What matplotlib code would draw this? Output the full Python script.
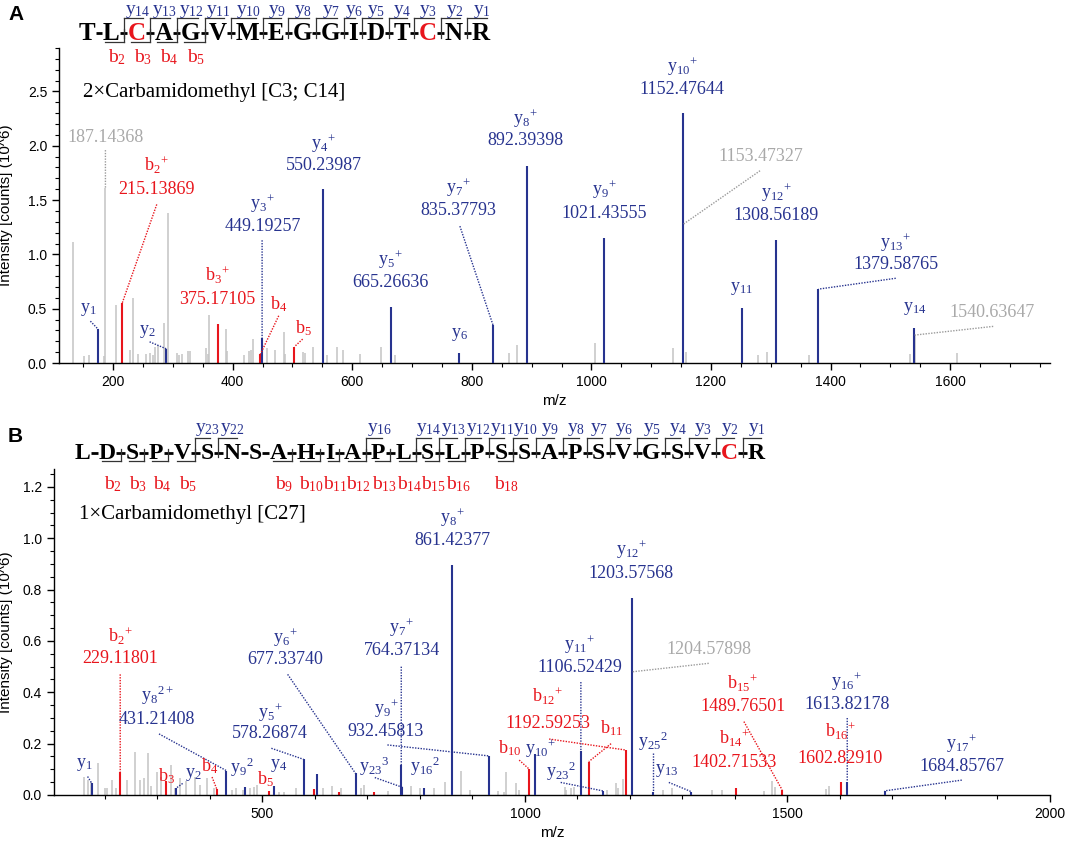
import matplotlib
matplotlib.use("Agg")
import matplotlib.pyplot as plt
from matplotlib.ticker import MultipleLocator, FormatStrFormatter
from matplotlib.font_manager import FontProperties

plt.rcParams['mathtext.fontset'] = 'custom'
plt.rcParams['mathtext.rm'] = 'Liberation Serif'
plt.rcParams['mathtext.it'] = 'Liberation Serif:italic'
plt.rcParams['mathtext.bf'] = 'Liberation Serif:bold'
plt.rcParams['font.family'] = 'Liberation Sans'

SERIF = 'Liberation Serif'
BLUE = '#27338f'
RED = '#e8151c'
GRAY = '#c4c4c4'
GRAYTXT = '#a9a9a9'

# ---------------- Panel A data ----------------
A_SEQ = "TLCAGVMEGGIDTCNR"
A_B_IONS = [2, 3, 4, 5]
A_Y_IONS = [14, 13, 12, 11, 10, 9, 8, 7, 6, 5, 4, 3, 2, 1]
A_MOD = "2×Carbamidomethyl [C3; C14]"

A_Y_MZ = [175.12, 289.16, 449.19257, 550.23987, 665.26636, 778.35, 835.37793,
          892.39398, 1021.43555, 1152.47644, 1251.55, 1308.56189, 1379.58765, 1539.63]
A_Y_INT = [0.31, 0.13, 0.23, 1.60, 0.52, 0.09, 0.35,
           1.81, 1.155, 2.30, 0.51, 1.13, 0.68, 0.32]
A_B_MZ = [215.13869, 375.17105, 446.2, 503.2]
A_B_INT = [0.55, 0.36, 0.08, 0.15]
A_ISO_MZ = [187.14368, 1153.47327, 1540.63647]
A_ISO_INT = [1.61, 1.277, 0.257]
A_OTHER_MZ = [132.9, 150.8, 158.9, 185.3, 204.8, 228.6, 232.6, 241.0, 255.6, 261.3,
              267.0, 270.0, 274.6, 284.4, 291.0, 306.4, 310.3, 314.9, 324.7, 329.3,
              355.2, 358.0, 360.4, 388.0, 391.0, 418.6, 426.6, 430.0, 434.0, 457.0,
              471.6, 485.8, 488.3, 517.6, 520.6, 533.8, 557.9, 574.0, 583.8, 612.6,
              648.8, 672.0, 862.0, 875.8, 1005.4, 1136.6, 1159.0, 1279.0, 1293.0, 1364.0,
              1533.0, 1612.0]
A_OTHER_INT = [1.11, 0.06, 0.077, 0.06, 0.53, 0.12, 0.60, 0.08, 0.08, 0.09,
               0.07, 0.15, 0.17, 0.37, 1.38, 0.09, 0.07, 0.08, 0.11, 0.11,
               0.14, 0.08, 0.44, 0.31, 0.11, 0.07, 0.11, 0.12, 0.22, 0.14,
               0.12, 0.29, 0.08, 0.10, 0.09, 0.15, 0.07, 0.15, 0.12, 0.08,
               0.15, 0.07, 0.09, 0.17, 0.18, 0.136, 0.10, 0.07, 0.10, 0.07,
               0.08, 0.09]

# annotations: (series, index, ion(letter, sub, sup), number text, label x, name y, number y, connector start)
A_ANNOT = [
    ('y', 0, ('y', '1', ''), None, 159, 0.49, None, (162, 0.385)),
    ('y', 1, ('y', '2', ''), None, 258, 0.29, None, (261, 0.195)),
    ('y', 2, ('y', '3', '+'), '449.19257', 450, 1.47, 1.26, (449.2, 1.13)),
    ('y', 3, ('y', '4', '+'), '550.23987', 552, 2.02, 1.82, None),
    ('y', 4, ('y', '5', '+'), '665.26636', 664, 0.955, 0.74, None),
    ('y', 5, ('y', '6', ''), None, 779, 0.26, None, None),
    ('y', 6, ('y', '7', '+'), '835.37793', 777, 1.61, 1.40, (780, 1.26)),
    ('y', 7, ('y', '8', '+'), '892.39398', 890, 2.25, 2.05, None),
    ('y', 8, ('y', '9', '+'), '1021.43555', 1021, 1.60, 1.38, None),
    ('y', 9, ('y', '10', '+'), '1152.47644', 1152, 2.73, 2.52, None),
    ('y', 10, ('y', '11', ''), None, 1251, 0.686, None, None),
    ('y', 11, ('y', '12', '+'), '1308.56189', 1309, 1.57, 1.36, None),
    ('y', 12, ('y', '13', '+'), '1379.58765', 1509, 1.11, 0.91, (1509, 0.78)),
    ('y', 13, ('y', '14', ''), None, 1541, 0.50, None, None),
    ('b', 0, ('b', '2', '+'), '215.13869', 273, 1.82, 1.60, (273, 1.46)),
    ('b', 1, ('b', '3', '+'), '375.17105', 375, 0.81, 0.58, None),
    ('b', 2, ('b', '4', ''), None, 477, 0.545, None, (477, 0.435)),
    ('b', 3, ('b', '5', ''), None, 519, 0.32, None, (517, 0.22)),
    ('iso', 0, None, '187.14368', 186.5, None, 2.08, (187.14, 1.96)),
    ('iso', 1, None, '1153.47327', 1283, None, 1.90, (1282, 1.77)),
    ('iso', 2, None, '1540.63647', 1670, None, 0.466, (1672, 0.337)),
]

# ---------------- Panel B data ----------------
B_SEQ = "LDSPVSNSAHIAPLSLPSSAPSVGSVCR"
B_B_IONS = [2, 3, 4, 5, 9, 10, 11, 12, 13, 14, 15, 16, 18]
B_Y_IONS = [23, 22, 16, 14, 13, 12, 11, 10, 9, 8, 7, 6, 5, 4, 3, 2, 1]
B_MOD = "1×Carbamidomethyl [C27]"

B_Y_MZ = [175.12, 335.15, 431.21408, 466.73, 521.25, 578.26874, 604.0, 677.3374,
          766.5, 764.37134, 808.0, 861.42377, 932.45813, 1019.49, 1106.52429,
          1148.5, 1203.57568, 1244.0, 1316.66, 1613.82178, 1684.85767]
B_Y_INT = [0.045, 0.026, 0.095, 0.03, 0.035, 0.139, 0.08, 0.084,
           0.03, 0.117, 0.026, 0.896, 0.152, 0.158, 0.172,
           0.016, 0.769, 0.012, 0.013, 0.052, 0.016]
B_B_MZ = [229.11801, 316.15, 413.2, 512.27, 598.6, 646.0, 713.3, 1008.47,
          1121.55, 1192.59253, 1402.71533, 1489.76501, 1602.8291]
B_B_INT = [0.088, 0.055, 0.022, 0.015, 0.023, 0.010, 0.012, 0.100,
           0.130, 0.175, 0.029, 0.020, 0.050]
B_ISO_MZ = [1204.57898]
B_ISO_INT = [0.48]
B_OTHER_MZ = [160, 167, 173.5, 187, 200.7, 204, 214, 222, 241.5, 257,
              266.7, 274, 282, 287, 299.3, 307.5, 326.5, 333, 343.5, 353.7,
              370.7, 382, 394.6, 408, 442, 449, 463, 476, 483, 490,
              531, 541, 564.6, 615.6, 632.7, 650, 687, 694, 739, 782,
              800, 826.5, 847, 877.6, 894.6, 948, 960, 964.6, 983, 989,
              1076, 1079, 1087, 1094, 1156, 1172.5, 1178, 1186, 1262, 1281,
              1357, 1375, 1456, 1470, 1476, 1574, 1580]
B_OTHER_INT = [0.071, 0.058, 0.052, 0.123, 0.026, 0.026, 0.058, 0.026, 0.058, 0.169,
               0.058, 0.068, 0.162, 0.036, 0.088, 0.071, 0.117, 0.026, 0.065, 0.055,
               0.071, 0.039, 0.065, 0.026, 0.020, 0.026, 0.020, 0.026, 0.030, 0.039,
               0.013, 0.010, 0.026, 0.029, 0.036, 0.026, 0.026, 0.039, 0.015, 0.036,
               0.026, 0.026, 0.049, 0.094, 0.020, 0.016, 0.013, 0.091, 0.045, 0.020,
               0.032, 0.020, 0.028, 0.032, 0.020, 0.045, 0.028, 0.062, 0.020, 0.026,
               0.020, 0.020, 0.015, 0.055, 0.030, 0.025, 0.035]

B_ANNOT = [
    ('y', 0, ('y', '1', ''), None, 161, 0.117, None, (167, 0.072)),
    ('y', 1, ('y', '2', ''), None, 368, 0.078, None, (348, 0.045)),
    ('y', 2, ('y', '8', '2+'), '431.21408', 299, 0.39, 0.295, (303, 0.238)),
    ('y', 3, ('y', '9', '2'), None, 461, 0.108, None, None),
    ('y', 4, ('y', '4', ''), None, 530, 0.113, None, None),
    ('y', 5, ('y', '5', '+'), '578.26874', 514, 0.32, 0.238, (517, 0.182)),
    ('y', 7, ('y', '6', '+'), '677.33740', 544, 0.613, 0.526, (548, 0.47)),
    ('y', 8, ('y', '23', '3'), None, 712, 0.11, None, (714, 0.068)),
    ('y', 9, ('y', '7', '+'), '764.37134', 765, 0.65, 0.561, (764.4, 0.5)),
    ('y', 10, ('y', '16', '2'), None, 810, 0.11, None, None),
    ('y', 11, ('y', '8', '+'), '861.42377', 862, 1.08, 0.99, None),
    ('y', 12, ('y', '9', '+'), '932.45813', 735, 0.338, 0.247, (738, 0.195)),
    ('y', 13, ('y', '10', '+'), None, 1030, 0.179, None, None),
    ('y', 14, ('y', '11', '+'), '1106.52429', 1104, 0.584, 0.496, (1106.5, 0.44)),
    ('y', 15, ('y', '23', '2'), None, 1068, 0.091, None, (1068, 0.049)),
    ('y', 16, ('y', '12', '+'), '1203.57568', 1202, 0.955, 0.864, None),
    ('y', 17, ('y', '25', '2'), None, 1244, 0.21, None, (1244, 0.162)),
    ('y', 18, ('y', '13', ''), None, 1270, 0.097, None, (1274, 0.049)),
    ('y', 19, ('y', '16', '+'), '1613.82178', 1613, 0.442, 0.353, (1613.8, 0.30)),
    ('y', 20, ('y', '17', '+'), '1684.85767', 1832, 0.201, 0.11, (1832, 0.058)),
    ('b', 0, ('b', '2', '+'), '229.11801', 230, 0.62, 0.53, (229.1, 0.47)),
    ('b', 1, ('b', '3', ''), None, 318, 0.075, None, None),
    ('b', 2, ('b', '4', ''), None, 400, 0.113, None, (404, 0.07)),
    ('b', 3, ('b', '5', ''), None, 506, 0.062, None, None),
    ('b', 7, ('b', '10', ''), None, 970, 0.184, None, (989, 0.136)),
    ('b', 8, ('b', '11', ''), None, 1164, 0.259, None, (1164, 0.2)),
    ('b', 9, ('b', '12', '+'), '1192.59253', 1043, 0.383, 0.279, (1046, 0.218)),
    ('b', 10, ('b', '14', '+'), '1402.71533', 1399, 0.22, 0.126, None),
    ('b', 11, ('b', '15', '+'), '1489.76501', 1415, 0.435, 0.344, (1417, 0.286)),
    ('b', 12, ('b', '16', '+'), '1602.82910', 1601, 0.247, 0.143, None),
    ('iso', 0, None, '1204.57898', 1350, None, 0.565, (1350, 0.513)),
]

W, H = 1065, 843
fig = plt.figure(figsize=(W / 100, H / 100), dpi=100)


def ion_tex(ion):
    letter, sub, sup = ion
    s = r'\mathrm{%s}_{\mathrm{%s}}' % (letter, sub)
    if sup:
        s += r'{}^{\mathrm{%s}}' % sup
    return '$' + s + '$'


def make_axes(rect, xlim, ylim, xmaj, xmin, ymaj, ymin):
    ax = fig.add_axes(rect)
    ax.set_xlim(*xlim)
    ax.set_ylim(*ylim)
    for s in ('top', 'right'):
        ax.spines[s].set_visible(False)
    for s in ('left', 'bottom'):
        ax.spines[s].set_linewidth(1.0)
    ax.xaxis.set_major_locator(MultipleLocator(xmaj))
    ax.xaxis.set_minor_locator(MultipleLocator(xmin))
    ax.yaxis.set_major_locator(MultipleLocator(ymaj))
    ax.yaxis.set_minor_locator(MultipleLocator(ymin))
    ax.yaxis.set_major_formatter(FormatStrFormatter('%.1f'))
    ax.tick_params(which='major', direction='out', length=5, width=1, labelsize=10)
    ax.tick_params(which='minor', direction='out', length=3, width=0.8)
    ax.set_ylabel('Intensity [counts] (10^6)', fontsize=11)
    ax.set_xlabel('m/z', fontsize=11)
    return ax


def draw_spectrum(ax, other, iso, bser, yser, annots, yl_x):
    ax.vlines(other[0], 0, other[1], colors=GRAY, lw=1.1, zorder=1)
    ax.vlines(iso[0], 0, iso[1], colors=GRAY, lw=1.1, zorder=1)
    ax.vlines(bser[0], 0, bser[1], colors=RED, lw=1.5, zorder=2)
    ax.vlines(yser[0], 0, yser[1], colors=BLUE, lw=1.5, zorder=3)
    series = {'y': (yser, BLUE, BLUE), 'b': (bser, RED, RED), 'iso': (iso, '#9a9a9a', GRAYTXT)}
    for ser, idx, ion, num, lx, ly_name, ly_num, conn in annots:
        data, lcol, tcol = series[ser]
        px, py = data[0][idx], data[1][idx]
        if conn is not None:
            ax.plot([conn[0], px], [conn[1], py], ls=(0, (1, 1)), color=lcol, lw=1.0, zorder=4)
        if ion is not None:
            ax.text(lx, ly_name, ion_tex(ion), color=tcol, fontsize=13,
                    ha='center', va='center', zorder=5)
        if num is not None:
            ax.text(lx, ly_num, num, color=tcol, fontsize=13, family=SERIF,
                    ha='center', va='center', zorder=5)
    ax.yaxis.set_label_coords(yl_x, 0.5)


axA = make_axes([59 / W, 1 - 363 / H, (1050 - 59) / W, (363 - 48) / H],
                (109.5, 1767), (0, 2.9), 200, 50, 0.5, 0.1)
draw_spectrum(axA, (A_OTHER_MZ, A_OTHER_INT), (A_ISO_MZ, A_ISO_INT),
              (A_B_MZ, A_B_INT), (A_Y_MZ, A_Y_INT), A_ANNOT, -0.046)

axB = make_axes([54 / W, 1 - 795 / H, (1050 - 54) / W, (795 - 469) / H],
                (103, 2000), (0, 1.27), 500, 100, 0.2, 0.05)
draw_spectrum(axB, (B_OTHER_MZ, B_OTHER_INT), (B_ISO_MZ, B_ISO_INT),
              (B_B_MZ, B_B_INT), (B_Y_MZ, B_Y_INT), B_ANNOT, -0.041)

ov = fig.add_axes([0, 0, 1, 1], facecolor='none')
ov.set_xlim(0, W)
ov.set_ylim(H, 0)
ov.axis('off')
ov.set_zorder(10)

renderer = fig.canvas.get_renderer()


def draw_sequence(seq, b_ions, y_ions, x_left, base, fs, plain_sep, br_sep,
                  top_dy, bot_dy, ylab_y, blab_y, lab_fs):
    n = len(seq)
    prop = FontProperties(family=SERIF, weight='bold', size=fs)
    widths = [renderer.get_text_width_height_descent(c, prop, ismath=False)[0] for c in seq]
    b_sites = set(b_ions)
    y_sites = {n - y: y for y in y_ions}
    x = x_left
    centers, sites = [], []
    for i, c in enumerate(seq):
        centers.append(x + widths[i] / 2)
        x += widths[i]
        if i < n - 1:
            k = i + 1
            sep = br_sep if (k in b_sites or k in y_sites) else plain_sep
            sites.append((k, x + sep / 2, sep))
            x += sep
    for i, c in enumerate(seq):
        ov.text(centers[i], base, c, fontproperties=prop, ha='center', va='baseline',
                color=RED if c == 'C' else 'black')
    hy = base - 0.27 * fs * 100 / 72
    ytop = base - top_dy
    ybot = base + bot_dy
    for k, xs, sep in sites:
        ov.plot([xs - sep / 2 + 0.5, xs + sep / 2 - 0.5], [hy, hy], color='black',
                lw=2.0, solid_capstyle='butt')
        if k in y_sites:
            ov.plot([xs, xs], [ytop, base - 2], color='#333333', lw=0.9)
            ov.plot([xs, xs + widths[k] + 1.5], [ytop, ytop], color='#333333', lw=0.9)
            ov.text(centers[k] + 1, ylab_y, ion_tex(('y', str(y_sites[k]), '')),
                    color=BLUE, fontsize=lab_fs, ha='center', va='center')
        if k in b_sites:
            ov.plot([xs, xs], [hy - 4, ybot], color='#333333', lw=0.9)
            ov.plot([xs, xs - widths[k - 1] - 1.5], [ybot, ybot], color='#333333', lw=0.9)
            ov.text(centers[k - 1] + 6, blab_y, ion_tex(('b', str(k), '')),
                    color=RED, fontsize=lab_fs, ha='center', va='center')


draw_sequence(A_SEQ, A_B_IONS, A_Y_IONS, 79, 40, 18, 7.0, 8.5, 22, 2, 12, 57, 14)
draw_sequence(B_SEQ, B_B_IONS, B_Y_IONS, 75, 459, 17, 8.0, 10.0, 21, 2, 430, 484, 14)

ov.text(83, 93, A_MOD, family=SERIF, fontsize=15, ha='left', va='center')
ov.text(79, 515, B_MOD, family=SERIF, fontsize=15, ha='left', va='center')
ov.text(8, 15, 'A', fontsize=15, fontweight='bold', ha='left', va='center')
ov.text(8, 436, 'B', fontsize=15, fontweight='bold', ha='left', va='center')

fig.savefig('out.png', dpi=100)
